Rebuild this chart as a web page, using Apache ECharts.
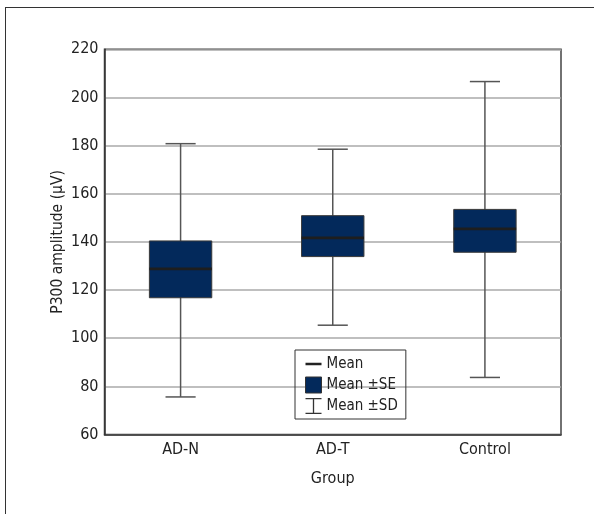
<!DOCTYPE html>
<html>
<head>
<meta charset="utf-8">
<script src="https://cdn.jsdelivr.net/npm/echarts@6/dist/echarts.min.js"></script>
<style>
  html, body { margin: 0; padding: 0; background: #ffffff; }
  #wrap { position: relative; width: 594px; height: 514px; overflow: hidden; }
  #frame { position: absolute; left: 5px; top: 7px; width: 700px; height: 700px;
           border-left: 1px solid #333; border-top: 1px solid #333; }
  #chart { position: absolute; left: 0; top: 0; width: 594px; height: 514px; }
</style>
</head>
<body>
<div id="wrap">
  <div id="frame"></div>
  <div id="chart"></div>
</div>
<script>
// ---- data ----
const categories = ['AD-N', 'AD-T', 'Control'];
const sdHigh = [180.8, 178.5, 206.6];
const seHigh = [140.4, 150.9, 153.5];
const means  = [128.8, 141.7, 145.4];
const seLow  = [116.8, 133.9, 135.7];
const sdLow  = [75.6, 105.4, 83.7];
const yMin = 60, yMax = 220, yStep = 20;

const FONT = "'DejaVu Sans Condensed', 'Liberation Sans Narrow', sans-serif";
const BOX_COLOR = '#03295b';

const sdData = categories.map((c, i) => [i, sdLow[i], sdHigh[i]]);
const seData = categories.map((c, i) => [i, seLow[i], seHigh[i]]);
const meanData = categories.map((c, i) => [i, means[i]]);

function renderSD(params, api) {
  const x = api.value(0);
  const lo = api.coord([x, api.value(1)]);
  const hi = api.coord([x, api.value(2)]);
  const half = api.size([1, 0])[0] * 0.099;
  const st = { stroke: '#555', lineWidth: 1.5 };
  return { type: 'group', children: [
    { type: 'line', shape: { x1: lo[0], y1: lo[1], x2: hi[0], y2: hi[1] }, style: st },
    { type: 'line', shape: { x1: hi[0] - half, y1: hi[1], x2: hi[0] + half, y2: hi[1] }, style: st },
    { type: 'line', shape: { x1: lo[0] - half, y1: lo[1], x2: lo[0] + half, y2: lo[1] }, style: st }
  ]};
}
function renderSE(params, api) {
  const x = api.value(0);
  const lo = api.coord([x, api.value(1)]);
  const hi = api.coord([x, api.value(2)]);
  const w = api.size([1, 0])[0] * 0.41;
  return { type: 'rect', shape: { x: hi[0] - w / 2, y: hi[1], width: w, height: lo[1] - hi[1] },
           style: { fill: BOX_COLOR, stroke: '#3a3a3a', lineWidth: 1 } };
}
function renderMean(params, api) {
  const x = api.value(0);
  const p = api.coord([x, api.value(1)]);
  const w = api.size([1, 0])[0] * 0.41;
  return { type: 'line', shape: { x1: p[0] - w / 2, y1: p[1], x2: p[0] + w / 2, y2: p[1] },
           style: { stroke: '#1e1e1e', lineWidth: 2.8 } };
}

const chart = echarts.init(document.getElementById('chart'), null, { renderer: 'canvas' });
chart.setOption({
  animation: false,
  backgroundColor: 'transparent',
  textStyle: { fontFamily: FONT },
  grid: { left: 104.5, top: 49.3, width: 456.5, height: 385.2, show: true,
          borderColor: '#444', borderWidth: 1.5, containLabel: false },
  legend: {
    orient: 'vertical', left: 295, top: 350,
    padding: [6, 8, 5, 10],
    borderColor: '#333', borderWidth: 1,
    itemGap: 4.5, itemWidth: 16, itemHeight: 16,
    selectedMode: false,
    textStyle: { fontFamily: FONT, fontSize: 15, color: '#222', lineHeight: 16 },
    data: [
      { name: 'Mean', icon: 'path://M0,0 L0.01,0 L0,0.01 Z M16,16 L15.99,16 L16,15.99 Z M0,6.8 H16 V9.2 H0 Z',
        itemStyle: { color: '#222' } },
      { name: 'Mean ±SE', icon: 'rect', itemStyle: { color: BOX_COLOR, borderColor: '#333', borderWidth: 1 } },
      { name: 'Mean ±SD', icon: 'path://M0,0 H16 V1.3 H8.65 V14.7 H16 V16 H0 V14.7 H7.35 V1.3 H0 Z',
        itemStyle: { color: '#333' } }
    ]
  },
  xAxis: {
    type: 'category', data: categories,
    name: 'Group', nameLocation: 'middle', nameGap: 36, nameMoveOverlap: false,
    nameTextStyle: { fontFamily: FONT, fontSize: 16, color: '#222' },
    axisLine: { show: true, lineStyle: { color: '#333', width: 1.5 } },
    axisTick: { show: false },
    axisLabel: { margin: 7.5, fontFamily: FONT, fontSize: 16, color: '#222' },
    splitLine: { show: false }
  },
  yAxis: {
    type: 'value', min: yMin, max: yMax, interval: yStep,
    name: 'P300 amplitude (μV)', nameLocation: 'middle', nameGap: 39, nameMoveOverlap: false,
    nameTextStyle: { fontFamily: FONT, fontSize: 15.5, color: '#222' },
    axisLine: { show: true, lineStyle: { color: '#333', width: 1.5 } },
    axisTick: { show: false },
    axisLabel: { margin: 6, fontFamily: FONT, fontSize: 16, color: '#222' },
    splitLine: { show: true, lineStyle: { color: '#aaa', width: 1.5 } }
  },
  series: [
    { name: 'Mean ±SD', type: 'custom', renderItem: renderSD, data: sdData,
      encode: { x: 0, y: [1, 2] }, itemStyle: { color: '#333' }, z: 2 },
    { name: 'Mean ±SE', type: 'custom', renderItem: renderSE, data: seData,
      encode: { x: 0, y: [1, 2] }, itemStyle: { color: BOX_COLOR }, z: 3 },
    { name: 'Mean', type: 'custom', renderItem: renderMean, data: meanData,
      encode: { x: 0, y: 1 }, itemStyle: { color: '#222' }, z: 4 }
  ]
});
</script>
</body>
</html>
